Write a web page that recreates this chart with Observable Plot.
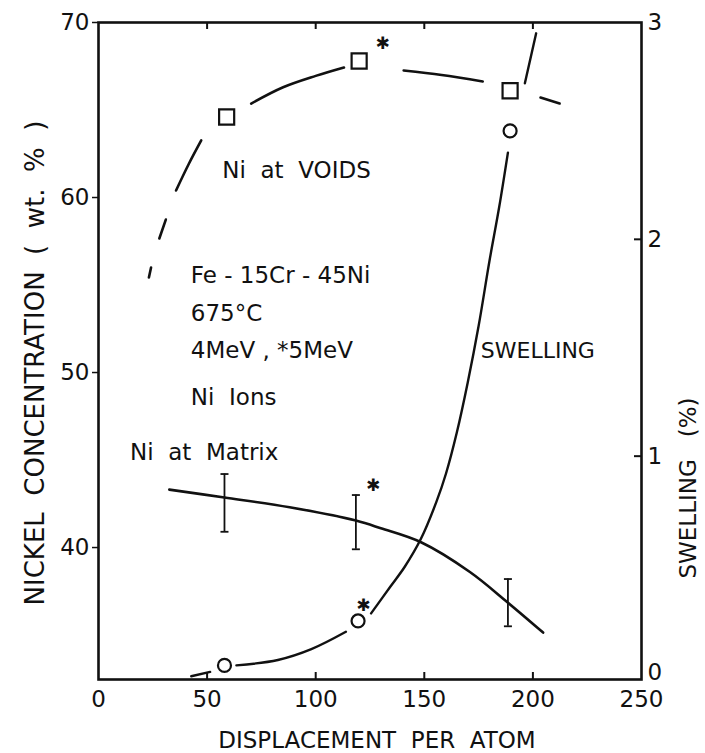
<!DOCTYPE html>
<html><head><meta charset="utf-8">
<script src="https://cdn.jsdelivr.net/npm/d3@7"></script>
<script src="https://cdn.jsdelivr.net/npm/@observablehq/plot@0.6"></script>
<style>
body{margin:0;background:#fff}
svg{font-family:"DejaVu Sans",sans-serif}
</style>
</head><body><div id="chart"></div>
<script>
// ---- scales / ticks ----
const xTicks = [0, 50, 100, 150, 200, 250];
const leftTicks = [40, 50, 60, 70];
const rightTicks = [0, 1, 2, 3];
const leftDomain = [32.46, 70];
const rightDomain = [-0.03, 3];

// ---- data: Ni at voids (squares) ----
const voidsDpa = [59, 120, 189.5];
const voidsNi = [64.6, 67.8, 66.1];
// dashed fitted curve through the void data (segments)
const voidsSegX = [[23.2, 24.2], [28, 31], [35.7, 41.5, 47.3], [70.3, 85, 100, 113], [140.5, 158, 176.9], [203.5, 212.3]];
const voidsSegY = [[55.43, 56.0], [57.66, 58.74], [60.4, 61.9, 63.26], [65.37, 66.3, 66.95, 67.43], [67.26, 67.0, 66.63], [65.71, 65.37]];

// ---- data: Ni at matrix (error bars) ----
const matrixDpa = [58, 118.5, 188.5];
const matrixLo = [40.9, 39.9, 35.5];
const matrixHi = [44.2, 43.0, 38.2];
const matrixCurveX = [32.6, 58, 88, 118.5, 130, 148.5, 171, 188.4, 204.7];
const matrixCurveY = [43.31, 42.86, 42.3, 41.54, 41.1, 40.3, 38.6, 36.86, 35.14];

// ---- data: swelling (%) (circles, right axis) ----
const swellDpa = [58, 119.5, 189.5];
const swellPct = [0.035, 0.24, 2.5];
const swellSegX = [[42.7, 51.4], [63.5, 82.6, 98, 113.9], [125.5, 134.5, 141, 148.5, 155.6, 160, 165, 170, 175, 180, 184.5, 188.5], [196.3, 201.5]];
const swellSegY = [[-0.015, 0.005], [0.035, 0.06, 0.11, 0.19], [0.275, 0.4, 0.49, 0.62, 0.79, 0.92, 1.11, 1.34, 1.6, 1.9, 2.15, 2.4], [2.72, 2.95]];

// 5 MeV markers (asterisks)
const starVoids = {x: 130.8, y: 68.8};
const starMatrix = {x: 126.4, y: 43.54};
const starSwell = {x: 122, s: 0.31};

// annotations (data coordinates, left axis units)
const noteText = ["Ni\u00a0 at\u00a0 VOIDS", "Fe - 15Cr - 45Ni", "675°C", "4MeV , *5MeV", "Ni\u00a0 Ions", "Ni\u00a0 at\u00a0 Matrix"];
const noteX = [57, 42.5, 42.5, 42.5, 42.5, 14.5];
const noteY = [61.54, 55.54, 53.37, 51.26, 48.57, 45.43];
const swellLabel = "SWELLING";
const swellLabelX = 176, swellLabelY = 51.26;

const xTitle = "DISPLACEMENT\u00a0 PER\u00a0 ATOM";
const yTitle = "NICKEL\u00a0\u00a0CONCENTRATION\u00a0\u00a0(\u00a0\u00a0wt.\u00a0\u00a0%\u00a0\u00a0)";
const y2Title = "SWELLING\u00a0\u00a0 (%)";

// ---- helpers ----
const sw = s => leftDomain[0] + (s - rightDomain[0]) / (rightDomain[1] - rightDomain[0]) * (leftDomain[1] - leftDomain[0]);
const swInv = v => rightDomain[0] + (v - leftDomain[0]) / (leftDomain[1] - leftDomain[0]) * (rightDomain[1] - rightDomain[0]);
const segRows = (xs, ys, f = d => d) => xs.flatMap((arr, k) => arr.map((x, i) => ({x, y: f(ys[k][i]), k})));

const W = 705, H = 753;
const mL = 98, mR = 64, mT = 22, mB = 74;
const innerW = W - mL - mR, innerH = H - mT - mB;

const voidsPts = voidsDpa.map((x, i) => ({x, y: voidsNi[i]}));
const matrixBars = matrixDpa.map((x, i) => ({x, lo: matrixLo[i], hi: matrixHi[i]}));
const matrixLine = matrixCurveX.map((x, i) => ({x, y: matrixCurveY[i]}));
const swellPts = swellDpa.map((x, i) => ({x, y: sw(swellPct[i])}));
const notes = noteText.map((t, i) => ({t, x: noteX[i], y: noteY[i]}));

const capSymbol = {draw(ctx, size) { const w = 4; ctx.moveTo(-w, 0); ctx.lineTo(w, 0); }};

const chart = Plot.plot({
  width: W, height: H,
  marginLeft: mL, marginRight: mR, marginTop: mT, marginBottom: mB,
  style: {fontFamily: "DejaVu Sans, sans-serif", color: "#111", background: "#fff"},
  x: {domain: [0, 250]},
  y: {domain: leftDomain},
  marks: [
    // axes
    Plot.axisX(xTicks, {anchor: "bottom", tickSize: 0, tickPadding: 11, fontSize: 23, letterSpacing: 2, label: null}),
    Plot.tickX(xTicks.slice(1, -1), {x: d => d, insetTop: innerH - 7, strokeWidth: 2}),
    Plot.tickX(xTicks.slice(1, -1), {x: d => d, insetBottom: innerH - 7, strokeWidth: 2}),
    Plot.axisY(leftTicks, {anchor: "left", tickSize: 6, tickPadding: 3, fontSize: 23, letterSpacing: 2.5, label: null, strokeWidth: 1.5}),
    Plot.axisY(rightTicks.map(sw), {anchor: "right", tickSize: 0, tickPadding: 6, fontSize: 23, label: null, tickFormat: v => String(Math.round(swInv(v)))}),
    Plot.tickY(rightTicks.slice(1, -1).map(sw), {y: d => d, insetLeft: innerW - 7, strokeWidth: 2}),
    Plot.frame({strokeWidth: 2.6}),
    // titles
    Plot.text([xTitle], {frameAnchor: "bottom", dx: 7, dy: 61, fontSize: 23, letterSpacing: 2.3, text: d => d, lineAnchor: "middle"}),
    Plot.text([yTitle], {frameAnchor: "left", textAnchor: "middle", dx: -63, dy: 12, rotate: -90, fontSize: 26, letterSpacing: 3.5, text: d => d}),
    Plot.text([y2Title], {frameAnchor: "right", textAnchor: "middle", dx: 47, dy: 137, rotate: -90, fontSize: 23, letterSpacing: 4, text: d => d}),
    // Ni at voids
    Plot.line(segRows(voidsSegX, voidsSegY), {x: "x", y: "y", z: "k", curve: "catmull-rom", strokeWidth: 2.6}),
    Plot.dot(voidsPts, {x: "x", y: "y", symbol: "square", r: 8.5, stroke: "#111", strokeWidth: 2.2, fill: "none"}),
    // Ni at matrix
    Plot.line(matrixLine, {x: "x", y: "y", curve: "catmull-rom", strokeWidth: 2.6}),
    Plot.ruleX(matrixBars, {x: "x", y1: "lo", y2: "hi", strokeWidth: 1.8}),
    Plot.dot(matrixBars, {x: "x", y: "lo", symbol: capSymbol, stroke: "#111", strokeWidth: 1.8}),
    Plot.dot(matrixBars, {x: "x", y: "hi", symbol: capSymbol, stroke: "#111", strokeWidth: 1.8}),
    // swelling
    Plot.line(segRows(swellSegX, swellSegY, sw), {x: "x", y: "y", z: "k", curve: "catmull-rom", strokeWidth: 2.4}),
    Plot.dot(swellPts, {x: "x", y: "y", r: 6.5, stroke: "#111", strokeWidth: 2.2, fill: "none"}),
    // asterisks (5 MeV)
    Plot.text([starVoids, starMatrix, {x: starSwell.x, y: sw(starSwell.s)}], {x: "x", y: "y", text: () => "✱", fontSize: 17, lineAnchor: "middle"}),
    // annotations
    Plot.text(notes, {x: "x", y: "y", text: "t", textAnchor: "start", lineAnchor: "middle", fontSize: 23, letterSpacing: 1.5}),
    Plot.text([swellLabel], {x: () => swellLabelX, y: () => swellLabelY, text: d => d, textAnchor: "start", lineAnchor: "middle", fontSize: 22, letterSpacing: 2.5})
  ]
});
document.getElementById("chart").appendChild(chart);
</script>
</body></html>
